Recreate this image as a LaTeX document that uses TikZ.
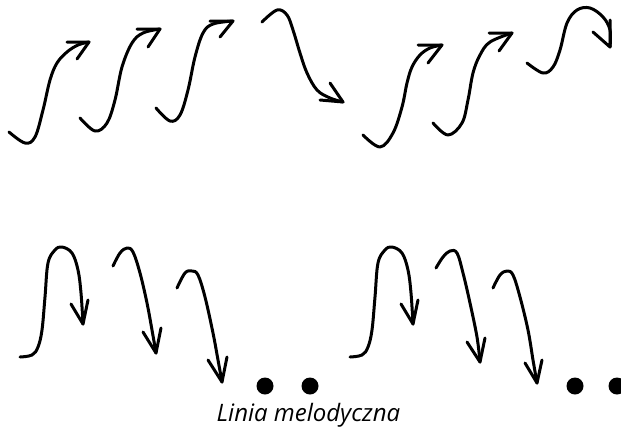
\documentclass[tikz,border=0pt]{standalone}
\usepackage{fontspec}
\setmainfont{Open Sans}
\begin{document}
\begin{tikzpicture}[x=1pt,y=-1pt,
  stroke/.style={line width=3pt,line cap=round,line join=round},
  curve/.style={stroke},
  head/.style={stroke},
  dot/.style={fill=black}]
\useasboundingbox (0,0) rectangle (621,429);
% top row
\draw[curve] plot[smooth,tension=0.6] coordinates {(9,132) (25,143) (35,137) (43,110) (50,80) (57,63) (67,52) (78,45) (89,42)};
\draw[head] (67,42) -- (89,42) -- (77,59);
\draw[curve] plot[smooth,tension=0.6] coordinates {(80,118) (95,131) (107,123) (115,100) (122,67) (132,43) (143,33) (160,29)};
\draw[head] (137,29) -- (160,29) -- (148,47);
\draw[curve] plot[smooth,tension=0.6] coordinates {(156,108) (170,121) (180,115) (188,90) (195,57) (203,33) (213,24) (233,21)};
\draw[head] (210,21) -- (233,21) -- (220,37);
\draw[curve] plot[smooth,tension=0.6] coordinates {(262,22) (277,10) (287,15) (293,30) (300,53) (307,73) (317,90) (330,98) (343,102)};
\draw[head] (320,100) -- (343,102) -- (330,83);
\draw[curve] plot[smooth,tension=0.6] coordinates {(363,135) (380,147) (393,133) (402,107) (407,83) (412,67) (420,55) (430,48) (442,45)};
\draw[head] (418,45) -- (442,45) -- (428,63);
\draw[curve] plot[smooth,tension=0.6] coordinates {(433,123) (448,135) (462,123) (468,100) (473,73) (480,55) (490,42) (512,33)};
\draw[head] (489,33) -- (512,33) -- (499,51);
\draw[curve] plot[smooth,tension=0.6] coordinates {(527,63) (543,73) (553,67) (560,50) (567,23) (577,10) (590,8) (603,17) (610,30) (610,47)};
\draw[head] (610,20) -- (610,47) -- (593,32);
% bottom row
\draw[curve] plot[smooth,tension=0.6] coordinates {(20,357) (32,355) (38,347) (42,330) (45,297) (48,263) (55,250) (62,247) (72,253) (78,270) (81,293) (83,324)};
\draw[head] (71,304) -- (83,324) -- (88,300);
\draw[curve] plot[smooth,tension=0.6] coordinates {(113,266) (120,253) (127,248) (133,252) (140,273) (147,303) (152,330) (156,353)};
\draw[head] (143,332) -- (156,353) -- (161,328);
\draw[curve] plot[smooth,tension=0.6] coordinates {(177,288) (185,273) (192,271) (198,275) (205,297) (213,333) (218,360) (222,382)};
\draw[head] (208,360) -- (222,382) -- (227,357);
\fill[dot] (265,386) circle (8.5);
\fill[dot] (310,386) circle (8.5);
\draw[curve] plot[smooth,tension=0.6] coordinates {(350,357) (362,355) (368,347) (372,330) (375,297) (378,263) (385,250) (392,247) (402,253) (408,270) (411,293) (413,324)};
\draw[head] (401,304) -- (413,324) -- (418,300);
\draw[curve] plot[smooth,tension=0.6] coordinates {(436,268) (443,257) (450,251) (457,253) (463,273) (470,303) (477,337) (480,362)};
\draw[head] (467,342) -- (480,362) -- (485,338);
\draw[curve] plot[smooth,tension=0.6] coordinates {(493,288) (500,275) (507,271) (513,275) (520,297) (528,330) (533,360) (537,383)};
\draw[head] (525,363) -- (537,383) -- (542,360);
\fill[dot] (575,386) circle (8.5);
\fill[dot] (617,386) circle (8.5);
\node[anchor=base,inner sep=0pt,font=\fontsize{24}{28}\selectfont\itshape] (cap) at (308.5,421.5) {Linia melodyczna};
\end{tikzpicture}
\end{document}
